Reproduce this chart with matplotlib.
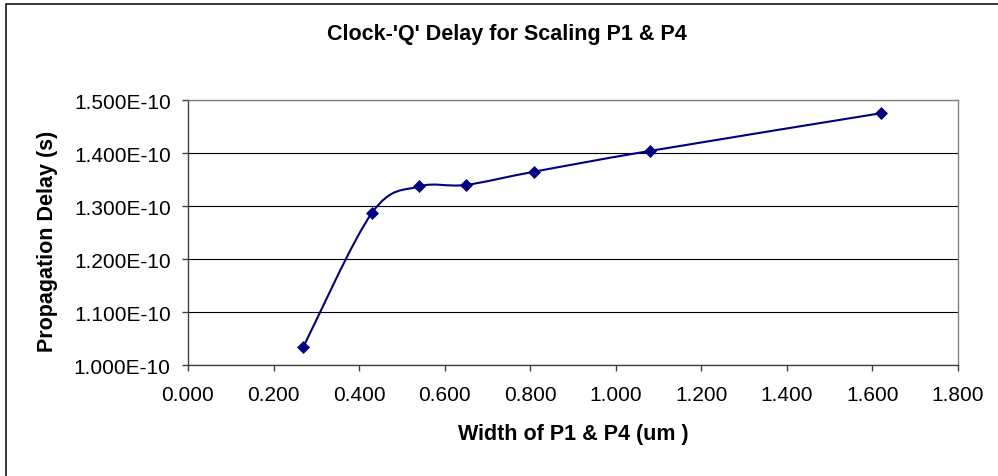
import numpy as np
import matplotlib.pyplot as plt
from matplotlib.path import Path
from matplotlib.patches import PathPatch, Rectangle
from matplotlib.ticker import FixedLocator, FuncFormatter

plt.rcParams['font.family'] = ['Liberation Sans', 'DejaVu Sans']

# Measured clock-to-Q delay vs. P1/P4 device width
width_um = [0.27, 0.43, 0.54, 0.65, 0.81, 1.08, 1.62]
delay_s = [1.035e-10, 1.287e-10, 1.337e-10, 1.340e-10, 1.365e-10, 1.404e-10, 1.475e-10]

x_ticks = [0.0, 0.2, 0.4, 0.6, 0.8, 1.0, 1.2, 1.4, 1.6, 1.8]
y_ticks = [1.0e-10, 1.1e-10, 1.2e-10, 1.3e-10, 1.4e-10, 1.5e-10]

title = "Clock-'Q' Delay for Scaling P1 & P4"
x_label = "Width of P1 & P4 (um )"
y_label = "Propagation Delay (s)"

navy = '#000080'


def smooth_path(x, y):
    # cubic Bezier through every point, control points from the neighbours (1/6 tension)
    pts = np.column_stack([x, y])
    n = len(pts)
    verts = [pts[0]]
    codes = [Path.MOVETO]
    for i in range(n - 1):
        prev = pts[i - 1] if i > 0 else pts[i]
        nxt = pts[i + 2] if i + 2 < n else pts[i + 1]
        c1 = pts[i] + (pts[i + 1] - prev) / 6
        c2 = pts[i + 1] - (nxt - pts[i]) / 6
        verts += [c1, c2, pts[i + 1]]
        codes += [Path.CURVE4] * 3
    return Path(verts, codes)


W, H = 998, 477
fig = plt.figure(figsize=(W / 100, H / 100), dpi=100)
fig.patch.set_facecolor('white')

# chart-area frame (runs off the right and bottom edges)
fig.patches.append(Rectangle((6 / W, -0.2), 2, 1 - 5 / H + 0.2, transform=fig.transFigure,
                             fill=False, edgecolor='black', lw=1.1))

ax = fig.add_axes([188 / W, 1 - 366.3 / H, (957.7 - 188) / W, (366.3 - 101) / H])
ax.set_xlim(0, 1.8)
ax.set_ylim(1.0e-10, 1.5e-10)

ax.xaxis.set_major_locator(FixedLocator(x_ticks))
ax.yaxis.set_major_locator(FixedLocator(y_ticks))
ax.xaxis.set_major_formatter(FuncFormatter(lambda v, p: f"{v:.3f}"))
ax.yaxis.set_major_formatter(FuncFormatter(lambda v, p: f"{v:.3E}"))

ax.grid(axis='y', color='black', lw=0.8)
ax.set_axisbelow(True)

for side in ['top', 'right']:
    ax.spines[side].set_color('#808080')
    ax.spines[side].set_linewidth(1.0)
for side in ['left', 'bottom']:
    ax.spines[side].set_color('#404040')
    ax.spines[side].set_linewidth(1.0)

ax.tick_params(axis='both', direction='out', length=4.5, width=1.0, color='#404040',
               labelsize=15, labelcolor='black')
ax.tick_params(axis='x', pad=9.5)
ax.tick_params(axis='y', pad=8)

ax.add_patch(PathPatch(smooth_path(width_um, delay_s), fill=False, edgecolor=navy, lw=1.5,
                       zorder=3))
ax.plot(width_um, delay_s, linestyle='none', marker='D', ms=6, color=navy, mec=navy,
        mew=0.5, zorder=4)

fig.text(506.7 / W, 1 - 40 / H, title, ha='center', va='baseline', fontsize=15.5,
         fontweight='bold')
fig.text(573 / W, 1 - 440 / H, x_label, ha='center', va='baseline', fontsize=15.5,
         fontweight='bold')
fig.text(47.5 / W, 1 - 241 / H, y_label, ha='center', va='center', rotation=90,
         fontsize=15.5, fontweight='bold')

fig.savefig('out.png', dpi=100)
